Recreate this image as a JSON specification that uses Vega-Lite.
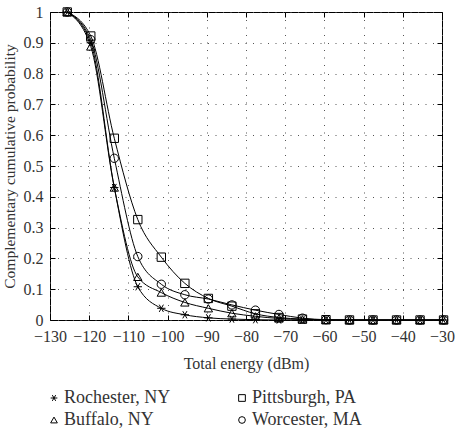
{
  "$schema": "https://vega.github.io/schema/vega-lite/v6.json",
  "autosize": "none",
  "width": 392,
  "height": 308,
  "padding": {"left": 50, "top": 12, "right": 13, "bottom": 108},
  "background": "white",
  "config": {
    "view": {"stroke": "black", "strokeWidth": 1},
    "font": "Liberation Serif",
    "axis": {
      "labelFont": "Liberation Serif",
      "titleFont": "Liberation Serif",
      "labelFontSize": 16,
      "titleFontSize": 16,
      "titleFontWeight": "normal",
      "labelColor": "#333",
      "titleColor": "#333",
      "domain": false,
      "tickColor": "black",
      "tickSize": -5,
      "gridColor": "#555",
      "gridDash": [1, 6.5],
      "gridWidth": 1
    },
    "legend": {
      "labelFont": "Liberation Serif",
      "labelFontSize": 18,
      "labelColor": "#333",
      "padding": 0
    }
  },
  "data": {
    "values": [
      {"city": "Rochester, NY", "x": -125.6, "y": 1.0},
      {"city": "Rochester, NY", "x": -119.6, "y": 0.9},
      {"city": "Rochester, NY", "x": -113.6, "y": 0.43},
      {"city": "Rochester, NY", "x": -107.6, "y": 0.108},
      {"city": "Rochester, NY", "x": -101.6, "y": 0.038},
      {"city": "Rochester, NY", "x": -95.6, "y": 0.017},
      {"city": "Rochester, NY", "x": -89.6, "y": 0.007},
      {"city": "Rochester, NY", "x": -83.6, "y": 0.003},
      {"city": "Rochester, NY", "x": -77.6, "y": 0.001},
      {"city": "Rochester, NY", "x": -71.6, "y": 0.0},
      {"city": "Rochester, NY", "x": -65.6, "y": 0.0},
      {"city": "Rochester, NY", "x": -59.6, "y": 0.0},
      {"city": "Rochester, NY", "x": -53.6, "y": 0.0},
      {"city": "Rochester, NY", "x": -47.6, "y": 0.0},
      {"city": "Rochester, NY", "x": -41.6, "y": 0.0},
      {"city": "Rochester, NY", "x": -35.6, "y": 0.0},
      {"city": "Rochester, NY", "x": -29.6, "y": 0.0},
      {"city": "Pittsburgh, PA", "x": -125.6, "y": 1.0},
      {"city": "Pittsburgh, PA", "x": -119.6, "y": 0.922},
      {"city": "Pittsburgh, PA", "x": -113.6, "y": 0.59},
      {"city": "Pittsburgh, PA", "x": -107.6, "y": 0.326},
      {"city": "Pittsburgh, PA", "x": -101.6, "y": 0.204},
      {"city": "Pittsburgh, PA", "x": -95.6, "y": 0.119},
      {"city": "Pittsburgh, PA", "x": -89.6, "y": 0.07},
      {"city": "Pittsburgh, PA", "x": -83.6, "y": 0.045},
      {"city": "Pittsburgh, PA", "x": -77.6, "y": 0.02},
      {"city": "Pittsburgh, PA", "x": -71.6, "y": 0.008},
      {"city": "Pittsburgh, PA", "x": -65.6, "y": 0.003},
      {"city": "Pittsburgh, PA", "x": -59.6, "y": 0.001},
      {"city": "Pittsburgh, PA", "x": -53.6, "y": 0.0},
      {"city": "Pittsburgh, PA", "x": -47.6, "y": 0.0},
      {"city": "Pittsburgh, PA", "x": -41.6, "y": 0.0},
      {"city": "Pittsburgh, PA", "x": -35.6, "y": 0.0},
      {"city": "Pittsburgh, PA", "x": -29.6, "y": 0.0},
      {"city": "Buffalo, NY", "x": -125.6, "y": 1.0},
      {"city": "Buffalo, NY", "x": -119.6, "y": 0.888},
      {"city": "Buffalo, NY", "x": -113.6, "y": 0.43},
      {"city": "Buffalo, NY", "x": -107.6, "y": 0.14},
      {"city": "Buffalo, NY", "x": -101.6, "y": 0.089},
      {"city": "Buffalo, NY", "x": -95.6, "y": 0.057},
      {"city": "Buffalo, NY", "x": -89.6, "y": 0.038},
      {"city": "Buffalo, NY", "x": -83.6, "y": 0.022},
      {"city": "Buffalo, NY", "x": -77.6, "y": 0.012},
      {"city": "Buffalo, NY", "x": -71.6, "y": 0.005},
      {"city": "Buffalo, NY", "x": -65.6, "y": 0.002},
      {"city": "Buffalo, NY", "x": -59.6, "y": 0.0},
      {"city": "Buffalo, NY", "x": -53.6, "y": 0.0},
      {"city": "Buffalo, NY", "x": -47.6, "y": 0.0},
      {"city": "Buffalo, NY", "x": -41.6, "y": 0.0},
      {"city": "Buffalo, NY", "x": -35.6, "y": 0.0},
      {"city": "Buffalo, NY", "x": -29.6, "y": 0.0},
      {"city": "Worcester, MA", "x": -125.6, "y": 1.0},
      {"city": "Worcester, MA", "x": -119.6, "y": 0.91},
      {"city": "Worcester, MA", "x": -113.6, "y": 0.525},
      {"city": "Worcester, MA", "x": -107.6, "y": 0.206},
      {"city": "Worcester, MA", "x": -101.6, "y": 0.116},
      {"city": "Worcester, MA", "x": -95.6, "y": 0.082},
      {"city": "Worcester, MA", "x": -89.6, "y": 0.068},
      {"city": "Worcester, MA", "x": -83.6, "y": 0.049},
      {"city": "Worcester, MA", "x": -77.6, "y": 0.032},
      {"city": "Worcester, MA", "x": -71.6, "y": 0.018},
      {"city": "Worcester, MA", "x": -65.6, "y": 0.006},
      {"city": "Worcester, MA", "x": -59.6, "y": 0.001},
      {"city": "Worcester, MA", "x": -53.6, "y": 0.0},
      {"city": "Worcester, MA", "x": -47.6, "y": 0.0},
      {"city": "Worcester, MA", "x": -41.6, "y": 0.0},
      {"city": "Worcester, MA", "x": -35.6, "y": 0.0},
      {"city": "Worcester, MA", "x": -29.6, "y": 0.0}
    ]
  },
  "resolve": {"axis": {"x": "independent", "y": "independent"}},
  "layer": [
    {
      "mark": {"type": "line", "interpolate": "monotone", "color": "black", "strokeWidth": 1},
      "encoding": {
        "x": {
          "field": "x", "type": "quantitative",
          "scale": {"domain": [-130, -30], "nice": false, "zero": false},
          "axis": {"title": "Total energy (dBm)", "values": [-130, -120, -110, -100, -90, -80, -70, -60, -50, -40, -30], "labelPadding": 13, "titlePadding": 11, "labelFlush": false}
        },
        "y": {
          "field": "y", "type": "quantitative",
          "scale": {"domain": [0, 1], "nice": false},
          "axis": {"title": "Complementary cumulative probability", "titleFontSize": 15.5, "values": [0, 0.1, 0.2, 0.3, 0.4, 0.5, 0.6, 0.7, 0.8, 0.9, 1], "format": "~g", "labelPadding": 12, "titlePadding": 6, "labelFlush": false}
        },
        "detail": {"field": "city"}
      }
    },
    {
      "mark": {"type": "point", "filled": false, "color": "black", "strokeWidth": 1, "size": 70, "opacity": 1},
      "encoding": {
        "x": {
          "field": "x", "type": "quantitative",
          "scale": {"domain": [-130, -30], "nice": false, "zero": false},
          "axis": {"orient": "top", "title": null, "labels": false, "grid": false, "values": [-130, -120, -110, -100, -90, -80, -70, -60, -50, -40, -30]}
        },
        "y": {
          "field": "y", "type": "quantitative",
          "scale": {"domain": [0, 1], "nice": false},
          "axis": {"orient": "right", "title": null, "labels": false, "grid": false, "values": [0, 0.1, 0.2, 0.3, 0.4, 0.5, 0.6, 0.7, 0.8, 0.9, 1]}
        },
        "shape": {
          "field": "city", "type": "nominal",
          "scale": {
            "domain": ["Rochester, NY", "Buffalo, NY", "Pittsburgh, PA", "Worcester, MA"],
            "range": ["M-1,0L1,0M-0.5,-0.866L0.5,0.866M-0.5,0.866L0.5,-0.866", "triangle-up", "square", "circle"]
          },
          "legend": {
            "title": null,
            "orient": "none",
            "legendX": -5,
            "legendY": 377,
            "columns": 2,
            "columnPadding": 62,
            "rowPadding": 4,
            "symbolSize": 45,
            "symbolStrokeColor": "black",
            "symbolFillColor": "transparent",
            "symbolStrokeWidth": 1,
            "labelOffset": 1
          }
        }
      }
    }
  ]
}
